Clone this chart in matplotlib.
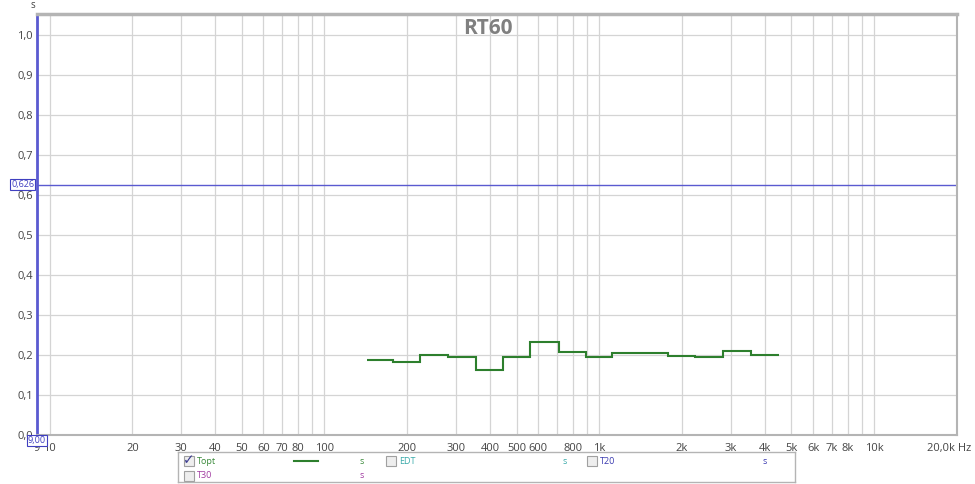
import matplotlib
matplotlib.use("Agg")
import matplotlib.pyplot as plt
from matplotlib.patches import Rectangle
import numpy as np

plt.rcParams['font.family'] = ['Open Sans', 'DejaVu Sans']

# 1/3 octave band centres (Hz) and Topt RT60 values (s)
band_centres = [160, 200, 250, 315, 400, 500, 630, 800, 1000, 1250, 1600,
                2000, 2500, 3150, 4000]
topt_values = [0.188, 0.1825, 0.201, 0.194, 0.162, 0.194, 0.233, 0.2075,
               0.196, 0.205, 0.205, 0.1975, 0.196, 0.209, 0.201]
marker_level = 0.626

x_ticks = [9, 10, 20, 30, 40, 50, 60, 70, 80, 100, 200, 300, 400, 500, 600,
           800, 1000, 2000, 3000, 4000, 5000, 6000, 7000, 8000, 10000, 20000]
x_tick_labels = ['9', '10', '20', '30', '40', '50', '60', '70', '80', '100',
                 '200', '300', '400', '500', '600', '800', '1k', '2k', '3k',
                 '4k', '5k', '6k', '7k', '8k', '10k', '20,0k Hz']
y_ticks = [0.0, 0.1, 0.2, 0.3, 0.4, 0.5, 0.6, 0.7, 0.8, 0.9, 1.0]
y_tick_labels = ['0,0', '0,1', '0,2', '0,3', '0,4', '0,5', '0,6', '0,7',
                 '0,8', '0,9', '1,0']

legend_names = ['Topt', 'EDT', 'T20', 'T30']
legend_colors = ['#3a8a3a', '#3aaaaa', '#3a3ab0', '#a03aa0']

W, H = 975, 484
fig = plt.figure(figsize=(W / 100, H / 100), dpi=100)
ax = fig.add_axes([37 / W, (H - 435) / H, (957 - 37) / W, (435 - 14) / H])

ax.set_xscale('log')
ax.set_xlim(9, 20000)
ax.set_ylim(0, 1.0525)

# grid: every 1..9 multiple of each decade
grid_x = [m * 10 ** d for d in range(1, 5) for m in range(1, 10)]
for gx in grid_x:
    if gx > 9:
        ax.axvline(gx, color='#d4d4d4', lw=0.9, zorder=0)
for gy in y_ticks[1:]:
    ax.axhline(gy, color='#d4d4d4', lw=0.9, zorder=0)

# last label (with unit) sits left of the axis end, drawn separately
ax.xaxis.set_major_locator(matplotlib.ticker.FixedLocator(x_ticks[:-1]))
ax.xaxis.set_minor_locator(matplotlib.ticker.NullLocator())
ax.set_xticklabels(x_tick_labels[:-1])
ax.annotate(x_tick_labels[-1], xy=(x_ticks[-1], 0),
            xycoords=('data', 'axes fraction'), xytext=(14, -13),
            textcoords='offset pixels', ha='right', va='center',
            fontsize=8, color='#444444')
ax.set_yticks(y_ticks)
ax.set_yticklabels(y_tick_labels)
ax.tick_params(axis='both', length=0, labelsize=8, colors='#444444')
ax.tick_params(axis='x', pad=6)
ax.tick_params(axis='y', pad=3)

for side in ['top', 'right', 'bottom']:
    ax.spines[side].set_color('#b4b4b4')
    ax.spines[side].set_linewidth(1.5)
ax.spines['top'].set_linewidth(2.5)
ax.spines['left'].set_color('#5a5ad0')
ax.spines['left'].set_linewidth(2)

# Topt step curve, band edges at +-1/6 octave
centres = np.array(band_centres, dtype=float)
edges = np.concatenate([centres * 10 ** -0.05, [centres[-1] * 10 ** 0.05]])
ax.stairs(topt_values, edges, color='#2d7f2d', lw=1.5, baseline=None, zorder=3)

# marker line
ax.axhline(marker_level, color='#5a5ad0', lw=1, zorder=2)
ax.text(-0.003, marker_level, '0,626', transform=ax.get_yaxis_transform(),
        ha='right', va='center', fontsize=6.5, color='#4040c0',
        bbox=dict(boxstyle='square,pad=0.1', fc='white', ec='#4040c0', lw=0.8))
ax.text(9, -0.003, '9,00', transform=ax.get_xaxis_transform(), ha='center',
        va='top', fontsize=6.5, color='#4040c0', zorder=5,
        bbox=dict(boxstyle='square,pad=0.1', fc='white', ec='#4040c0', lw=0.8))

ax.text(0.49, 0.965, 'RT60', transform=ax.transAxes, ha='center', va='center',
        fontsize=15, fontweight='bold', color='#808080')
fig.text(33 / W, 1 - 6 / H, 's', ha='center', va='center', fontsize=7,
         color='#444444')

# legend panel
lx0, ly_top, lx1, ly_bot = 178, 452, 795, 482
lax = fig.add_axes([lx0 / W, (H - ly_bot) / H, (lx1 - lx0) / W, (ly_bot - ly_top) / H])
lax.set_xlim(lx0, lx1)
lax.set_ylim(ly_bot, ly_top)
lax.set_xticks([])
lax.set_yticks([])
for s in lax.spines.values():
    s.set_color('#b4b4b4')
    s.set_linewidth(1)

entries = [(184, 461, 362), (386, 461, 565), (587, 461, 765), (184, 476, 362)]
for (cx, cy, sx), name, col in zip(entries, legend_names, legend_colors):
    lax.add_patch(Rectangle((cx, cy - 5), 10, 10, fc='#eeeeee', ec='#a0a0a0', lw=0.8))
    lax.text(cx + 13, cy, name, ha='left', va='center', fontsize=6.5, color=col)
    lax.text(sx, cy, 's', ha='center', va='center', fontsize=6.5, color=col)
lax.text(189, 460.5, '\u2713', ha='center', va='center', fontsize=10,
         color='#3a3a90', family=['DejaVu Sans'])
lax.plot([294, 318], [461, 461], color='#2d7f2d', lw=1.5)

fig.savefig('out.png', dpi=100)
